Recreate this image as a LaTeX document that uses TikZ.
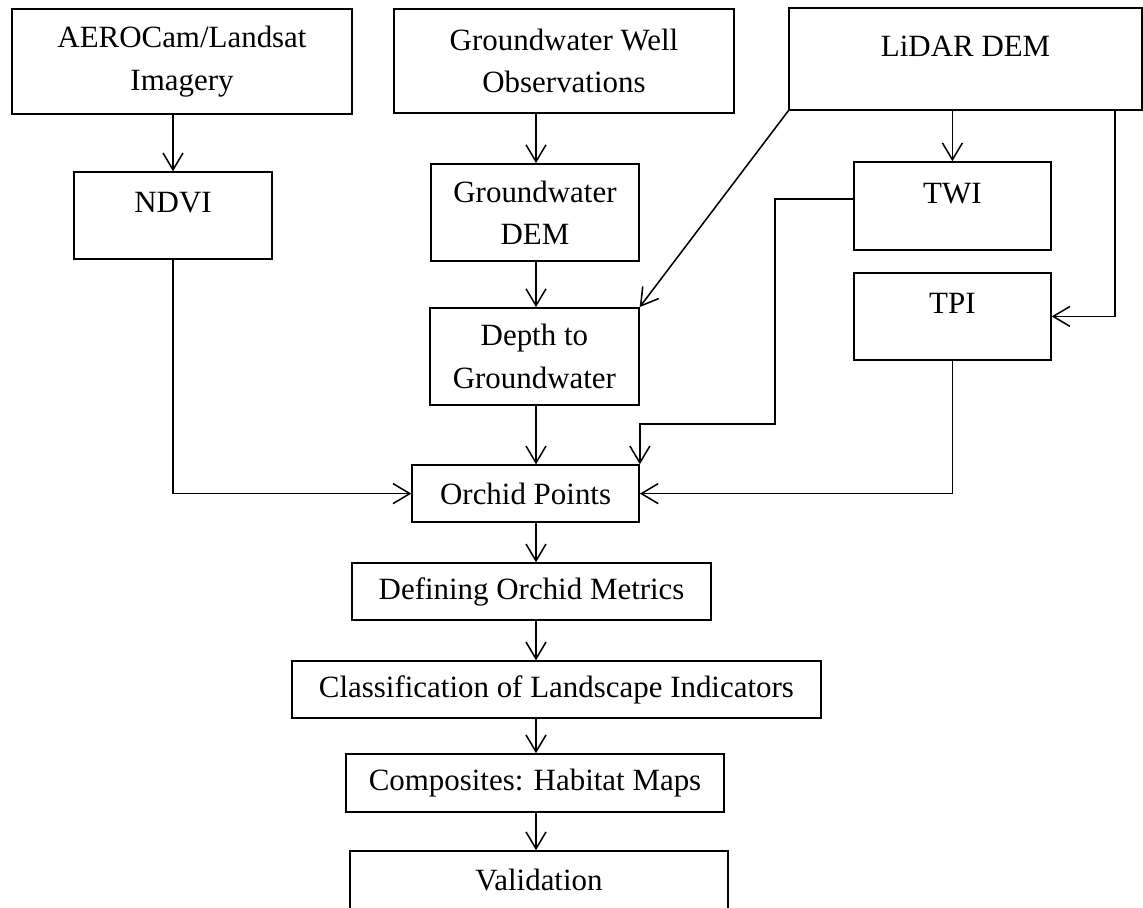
\documentclass[tikz,border=0pt]{standalone}
\usepackage{fontspec}
\setmainfont{Liberation Serif}
\usetikzlibrary{arrows.meta}

\begin{document}
\begin{tikzpicture}[line width=1.1pt,
    >={Straight Barb[length=0.42cm,width=0.5cm]},
    box/.style={draw, inner sep=0pt, align=center,
      font=\fontsize{22}{30}\selectfont},
    topbox/.style={box, text height=16pt, text depth=20pt}]
  \useasboundingbox (0,0) rectangle (28.575,-22.675);
  \coordinate (spine) at (13.4,0);
  % sources
  \node[box, minimum width=8.5cm, minimum height=2.625cm] (aero) at (4.55,-1.54) {AEROCam/Landsat\\Imagery};
  \node[box, minimum width=8.5cm, minimum height=2.6cm] (gwwell) at (14.1,-1.53) {Groundwater Well\\Observations};
  \node[topbox, minimum width=8.825cm, minimum height=2.55cm] (lidar) at (24.14,-1.475) {LiDAR DEM};
  % derived layers
  \node[topbox, minimum width=4.95cm, minimum height=2.175cm] (ndvi) at (4.325,-5.39) {NDVI};
  \node[box, minimum width=5.2cm, minimum height=2.425cm] (gwdem) at (13.375,-5.31) {Groundwater\\DEM};
  \node[topbox, minimum width=4.925cm, minimum height=2.2cm] (twi) at (23.81,-5.15) {TWI};
  \node[topbox, minimum width=4.925cm, minimum height=2.175cm] (tpi) at (23.81,-7.91) {TPI};
  \node[box, minimum width=5.225cm, minimum height=2.425cm] (depth) at (13.36,-8.91) {Depth to\\Groundwater};
  % main chain
  \node[box, minimum width=5.675cm, minimum height=1.425cm] (orchid) at (13.14,-12.34) {Orchid Points};
  \node[box, minimum width=8.975cm, minimum height=1.425cm] (metrics) at (13.29,-14.79) {Defining Orchid Metrics};
  \node[box, minimum width=13.225cm, minimum height=1.425cm] (classes) at (13.91,-17.24) {Classification of Landscape Indicators};
  \node[box, minimum width=9.45cm, minimum height=1.45cm] (habitat) at (13.375,-19.575) {Composites: Habitat Maps};
  \node[box, minimum width=9.45cm, minimum height=1.45cm] (valid) at (13.475,-22.0) {Validation};

  \draw[->] (aero.south -| ndvi.north) -- (ndvi.north);
  \draw[->] (gwwell.south -| spine) -- (gwdem.north -| spine);
  \draw[->] (lidar.south -| twi.north) -- (twi.north);
  \draw[->] (lidar.south west) -- (depth.north east);
  \draw[->] ([xshift=-0.7cm]lidar.south east) |- (tpi.east);
  \draw[->] (gwdem.south -| spine) -- (depth.north -| spine);
  \draw[->] (depth.south -| spine) -- (orchid.north -| spine);
  \draw[->] ([yshift=0.175cm]twi.west) -- ++(-1.95,0) -- ++(0,-5.625) -| (orchid.north east);
  \draw[->] (ndvi.south) |- (orchid.west);
  \draw[->] (tpi.south) |- (orchid.east);
  \draw[->] (orchid.south -| spine) -- (metrics.north -| spine);
  \draw[->] (metrics.south -| spine) -- (classes.north -| spine);
  \draw[->] (classes.south -| spine) -- (habitat.north -| spine);
  \draw[->] (habitat.south -| spine) -- (valid.north -| spine);
\end{tikzpicture}
\end{document}
